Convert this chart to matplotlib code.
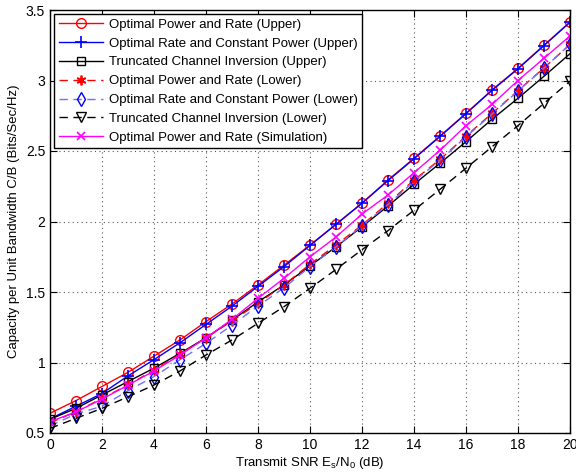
import matplotlib
matplotlib.use("Agg")
import matplotlib.pyplot as plt
import numpy as np

plt.rcParams['font.family'] = ['Liberation Sans', 'DejaVu Sans']
plt.rcParams['mathtext.default'] = 'regular'

snr_db = list(range(0, 21))

opt_power_rate_upper = [0.64, 0.73, 0.83, 0.93, 1.045, 1.16, 1.29, 1.415, 1.55, 1.69, 1.833,
                        1.98, 2.13, 2.294, 2.448, 2.606, 2.767, 2.933, 3.086, 3.25, 3.415]
opt_rate_const_upper = [0.60, 0.69, 0.78, 0.905, 1.02, 1.14, 1.27, 1.40, 1.54, 1.68, 1.83,
                        1.98, 2.13, 2.29, 2.445, 2.603, 2.765, 2.93, 3.083, 3.248, 3.413]
trunc_inv_upper = [0.597, 0.675, 0.77, 0.865, 0.96, 1.065, 1.175, 1.30, 1.43, 1.55, 1.685,
                   1.82, 1.963, 2.11, 2.264, 2.413, 2.566, 2.725, 2.874, 3.03, 3.19]
opt_power_rate_lower = [0.573, 0.65, 0.746, 0.84, 0.947, 1.06, 1.175, 1.295, 1.42, 1.55, 1.697,
                        1.833, 1.975, 2.13, 2.294, 2.44, 2.606, 2.767, 2.928, 3.09, 3.256]
opt_rate_const_lower = [0.55, 0.635, 0.69, 0.80, 0.90, 1.02, 1.135, 1.265, 1.40, 1.53, 1.68,
                        1.82, 1.97, 2.12, 2.285, 2.435, 2.60, 2.762, 2.925, 3.088, 3.256]
trunc_inv_lower = [0.533, 0.604, 0.675, 0.757, 0.84, 0.94, 1.053, 1.16, 1.278, 1.396, 1.526,
                   1.66, 1.80, 1.935, 2.08, 2.228, 2.378, 2.53, 2.68, 2.838, 2.995]
opt_power_rate_sim = [0.58, 0.65, 0.74, 0.84, 0.94, 1.053, 1.175, 1.306, 1.455, 1.597, 1.75,
                      1.89, 2.053, 2.188, 2.346, 2.505, 2.68, 2.83, 3.0, 3.158, 3.316]

labels = ['Optimal Power and Rate (Upper)',
          'Optimal Rate and Constant Power (Upper)',
          'Truncated Channel Inversion (Upper)',
          'Optimal Power and Rate (Lower)',
          'Optimal Rate and Constant Power (Lower)',
          'Truncated Channel Inversion (Lower)',
          'Optimal Power and Rate (Simulation)']

fig = plt.figure(figsize=(5.76, 4.74), dpi=100)
ax = fig.add_axes([50/576, 41/474, 520/576, 423/474])

lw = 1.0
ax.plot(snr_db, opt_power_rate_upper, color='red', ls='-', lw=lw, marker='o', ms=7,
        mfc='none', mec='red', mew=1.0, label=labels[0])
ax.plot(snr_db, opt_rate_const_upper, color='blue', ls='-', lw=lw, marker='+', ms=8,
        mec='blue', mew=1.2, label=labels[1])
ax.plot(snr_db, trunc_inv_upper, color='black', ls='-', lw=lw, marker='s', ms=5.5,
        mfc='none', mec='black', mew=1.0, label=labels[2])
ax.plot(snr_db, opt_power_rate_lower, color='red', ls=(0, (6, 4)), lw=lw, marker=(6, 2, 0), ms=7,
        mfc='red', mec='red', mew=1.3, label=labels[3])
ax.plot(snr_db, opt_rate_const_lower, color='#6f6fff', ls=(0, (6, 4)), lw=lw, marker='d', ms=7,
        mfc='none', mec='blue', mew=1.0, label=labels[4])
ax.plot(snr_db, trunc_inv_lower, color='black', ls=(0, (6, 4)), lw=lw, marker='v', ms=7,
        mfc='none', mec='black', mew=1.0, label=labels[5])
ax.plot(snr_db, opt_power_rate_sim, color='magenta', ls='-', lw=lw, marker='x', ms=6,
        mec='magenta', mew=1.2, label=labels[6])

ax.set_xlim(0, 20)
ax.set_ylim(0.5, 3.5)
ax.set_xticks(range(0, 21, 2))
ax.set_yticks([0.5, 1, 1.5, 2, 2.5, 3, 3.5])
ax.set_yticklabels(['0.5', '1', '1.5', '2', '2.5', '3', '3.5'])
ax.grid(True, ls=(0, (1, 3)), color='#555555', lw=0.8)
ax.tick_params(direction='in', top=True, right=True, labelsize=10, length=5, width=0.8)
for sp in ax.spines.values():
    sp.set_linewidth(1.0)

ax.set_xlabel('Transmit SNR E$_s$/N$_0$ (dB)', fontsize=9.5, labelpad=2)
ax.set_ylabel('Capacity per Unit Bandwidth C/B (Bits/Sec/Hz)', fontsize=9.5, labelpad=4)

leg = ax.legend(loc='upper left', fontsize=9.5, frameon=True, fancybox=False,
                edgecolor='black', framealpha=1, handlelength=3.4, borderpad=0.35,
                labelspacing=0.5, handletextpad=0.4, borderaxespad=0.3)
leg.get_frame().set_linewidth(1.0)

fig.savefig('out.png', dpi=100)
